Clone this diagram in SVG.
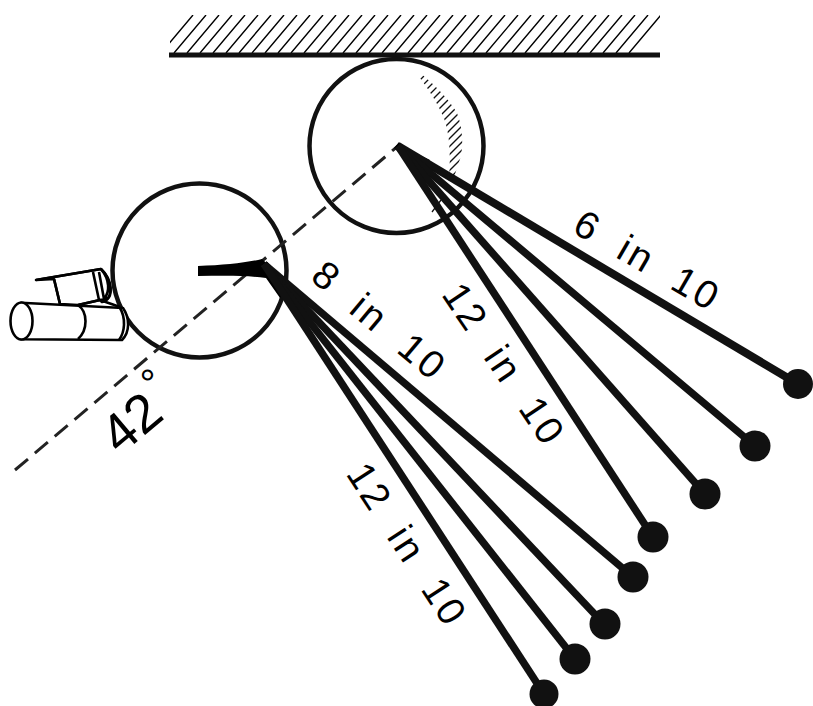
<svg xmlns="http://www.w3.org/2000/svg" width="813" height="706" viewBox="0 0 813 706">
<style>
.lbl{font-family:"Liberation Sans",Arial,sans-serif;font-size:39px;fill:#000;text-anchor:middle;letter-spacing:3px;word-spacing:12px}
.wheel{fill:none;stroke:#111;stroke-width:4.5}
.cam{fill:#fff;stroke:#000;stroke-width:2.6;stroke-linejoin:round}
.ball{fill:#111}
.rod{stroke:#111;stroke-width:7.5;fill:none;stroke-linecap:butt}
</style>
<defs>
<clipPath id="wallClip"><rect x="170" y="15" width="490" height="38"/></clipPath>
<clipPath id="crescent"><path d="M409 65 C420 72 445 92 457 113 C463 128 464 150 459 162 L453 180 L430 214 L443 214 L449 178 C451 150 449 130 443 116 C438 104 425 82 409 65Z"/></clipPath>
</defs>
<rect width="813" height="706" fill="#fff"/>
<g id="wall">
<path clip-path="url(#wallClip)" fill="none" stroke="#000" stroke-width="1.4" d="M161 53l32 -38m-19 38l32 -38m-19 38l32 -38m-19 38l32 -38m-19 38l32 -38m-19 38l32 -38m-19 38l32 -38m-19 38l32 -38m-19 38l32 -38m-19 38l32 -38m-19 38l32 -38m-19 38l32 -38m-19 38l32 -38m-19 38l32 -38m-19 38l32 -38m-19 38l32 -38m-19 38l32 -38m-19 38l32 -38m-19 38l32 -38m-19 38l32 -38m-19 38l32 -38m-19 38l32 -38m-19 38l32 -38m-19 38l32 -38m-19 38l32 -38m-19 38l32 -38m-19 38l32 -38m-19 38l32 -38m-19 38l32 -38m-19 38l32 -38m-19 38l32 -38m-19 38l32 -38m-19 38l32 -38m-19 38l32 -38m-19 38l32 -38m-19 38l32 -38m-19 38l32 -38"/>
<rect x="169" y="52.500" width="491" height="5" fill="#111"/>
</g>
<g id="wheel-top">
<circle class="wheel" cx="396.5" cy="146" r="87"/>
<path clip-path="url(#crescent)" fill="none" stroke="#111" stroke-width="1.3" d="M420 56l60 -60M420 64l60 -60M420 72l60 -60M420 80l60 -60M420 88l60 -60M420 96l60 -60M420 104l60 -60M420 112l60 -60M420 120l60 -60M420 128l60 -60M420 136l60 -60M420 144l60 -60M420 152l60 -60M420 160l60 -60M420 168l60 -60M420 176l60 -60M420 184l60 -60M420 192l60 -60M420 200l60 -60M420 208l60 -60"/>
<path fill="none" stroke="#111" stroke-width="1.3" d="M432 212l9 -12"/>
</g>
<g id="wheel-left">
<circle class="wheel" cx="199.5" cy="270.5" r="87"/>
</g>
<g id="camera">
<path class="cam" d="M36 280L101 269C112 280 114 300 102 302L100 300L78 305L60 304L54 279Z" stroke="none"/>
<path fill="none" stroke="#000" stroke-width="2.6" stroke-linejoin="round" d="M36 280L101 269M54 279L60 304M93 272L99 300M99 272L104 299M101 269C110 280 110 292 104 299M101 269C113 280 113 298 106 299L100 300L78 305M100 300L120 307"/>
<path class="cam" d="M21 302.700L123 308C130 318 130 332 122 340L21 339.300Z"/>
<ellipse class="cam" cx="21.500" cy="321" rx="11" ry="18.500"/>
<path fill="none" stroke="#000" stroke-width="2.600" d="M78 305C88 312 88 330 78 339M120 308C126 318 125 332 119 340"/>
</g>
<g id="connectors">
<path fill="none" stroke="#222" stroke-width="3" stroke-dasharray="17 9" d="M15 470L398 146"/>
<path fill="#000" d="M198 266C225 265 245 263 262 259L290 285L280 298L266 278C245 275 220 276 198 276Z"/>
<path fill="#000" d="M399 142L394 148L420 172L430 160L405 148Z"/>
<path class="rod" style="stroke-width:8" d="M398 146L798 384"/>
<path class="rod" d="M398 146L755 446"/>
<path class="rod" d="M398 146L705 494"/>
<path class="rod" d="M398 146L653 537"/>
<path class="rod" d="M264 264L633 577"/>
<path class="rod" d="M264 264L604 624"/>
<path class="rod" d="M264 264L575 659"/>
<path class="rod" d="M264 264L544 694"/>
</g>
<g id="balls">
<circle class="ball" cx="798" cy="384" r="15"/>
<circle class="ball" cx="755" cy="446" r="15.500"/>
<circle class="ball" cx="705" cy="494" r="15.500"/>
<circle class="ball" cx="653" cy="537" r="15.500"/>
<circle class="ball" cx="633" cy="577" r="15.500"/>
<circle class="ball" cx="605" cy="624" r="15.500"/>
<circle class="ball" cx="575" cy="659" r="15.500"/>
<circle class="ball" cx="544" cy="694" r="14.500"/>
</g>
<g id="labels">
<text class="lbl" transform="translate(641 272) rotate(30)" xml:space="preserve">6 in 10</text>
<text class="lbl" transform="translate(371 331) rotate(40)" xml:space="preserve">8 in 10</text>
<text class="lbl" transform="translate(493 372) rotate(56)" xml:space="preserve">12 in 10</text>
<text class="lbl" transform="translate(396 552) rotate(57)" xml:space="preserve">12 in 10</text>
<text transform="translate(120 456) rotate(-40)" font-family="Liberation Sans, Arial, sans-serif" font-size="54">42<tspan dx="5" dy="-22" font-size="40">°</tspan></text>
</g>
</svg>
